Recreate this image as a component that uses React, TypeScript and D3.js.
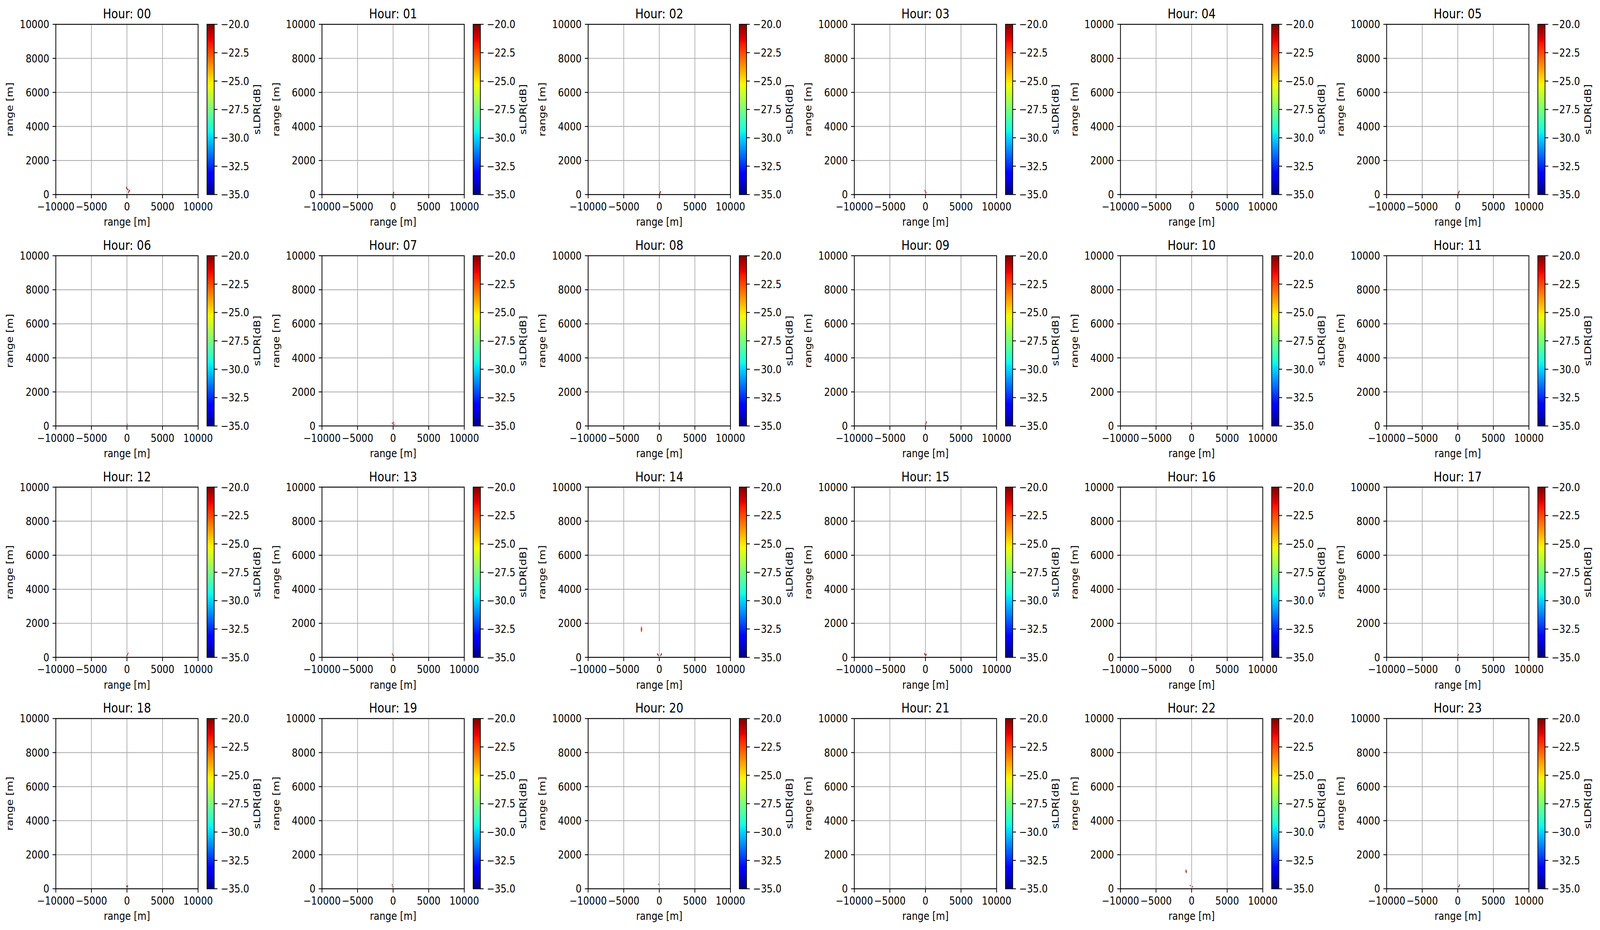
import React from 'react';
import * as d3 from 'd3';

// hour titles, one panel each
const hourLabels = [
  '00', '01', '02', '03', '04', '05',
  '06', '07', '08', '09', '10', '11',
  '12', '13', '14', '15', '16', '17',
  '18', '19', '20', '21', '22', '23',
];

const xTicks = [-10000, -5000, 0, 5000, 10000];
const yTicks = [0, 2000, 4000, 6000, 8000, 10000];
const cbarTicks = [-35, -32.5, -30, -27.5, -25, -22.5, -20];

// sLDR cells per hour: [x range m, y range m, sLDR dB]
const hourCells: [number, number, number][][] = [
  [[-70, 420, -20], [-70, 360, -20.2], [110, 320, -20], [150, 290, -20.3], [210, 120, -20], [260, 170, -20.1], [320, 210, -20], [370, 250, -20.2]],
  [[40, 80, -20], [100, 120, -20.4]],
  [[60, 70, -20], [130, 120, -20.2], [190, 170, -20]],
  [[-80, 230, -21], [20, 170, -21.5], [90, 110, -20.8]],
  [[20, 90, -20.5], [90, 170, -20.8]],
  [[70, 80, -20], [140, 130, -20], [210, 190, -20.3]],
  [[40, 90, -21]],
  [[-120, 170, -20.6], [0, 110, -20.4], [80, 210, -20.8], [140, 90, -20.5]],
  [[-20, 90, -20.5], [40, 170, -20.7]],
  [[20, 90, -20.2], [100, 170, -20], [160, 240, -20.4]],
  [[-80, 160, -21], [0, 100, -20.8]],
  [[20, 110, -21]],
  [[-20, 90, -20.3], [80, 160, -20.5], [160, 240, -20.6]],
  [[-120, 210, -20.6], [-40, 140, -20.8], [60, 100, -20.5]],
  [[-2550, 1580, -22.4], [-2500, 1580, -22], [-2450, 1580, -22.6], [-2550, 1650, -22.2], [-2500, 1650, -21.4], [-2450, 1650, -22.3],
   [-2550, 1720, -22.6], [-2500, 1720, -22.1], [-2450, 1720, -22.7], [-2500, 1520, -22.5], [-2500, 1790, -22.8],
   [-260, 200, -20], [-200, 160, -20], [-130, 110, -20], [200, 110, -20], [260, 160, -20], [310, 210, -20]],
  [[-140, 220, -20], [-60, 160, -20], [40, 110, -20], [120, 170, -20.2]],
  [[20, 120, -20.8]],
  [[20, 100, -20.6], [90, 160, -20.8]],
  [[-60, 150, -20.3], [40, 100, -20.4], [100, 170, -20.5]],
  [[-140, 230, -20.6], [-40, 120, -20.8]],
  [[-80, 260, -21]],
  [[20, 100, -20.8]],
  [[-800, 1080, -20], [-790, 1010, -20.2], [-760, 960, -20], [-740, 1030, -20.1], [-190, 190, -20], [140, 120, -20]],
  [[130, 110, -20], [190, 160, -20], [250, 220, -20]],
];

const W = 4779;
const H = 2382;
const FONT = '"DejaVu Sans", sans-serif';
const TICK_FS = 27.8;

const left0 = 166.7;
const top0 = 62.3;
const colStep = 795;
const rowStep = 592.7;
const axW = 425;
const axH = 436;
const cbGap = 26.6;
const cbW = 21.5;
const tickLen = 9.7;
const lw = 2.2;
const cellW = 90; // metres
const cellH = 80;

// matplotlib "jet"
const jetR = d3.scaleLinear().domain([0, 0.35, 0.66, 0.89, 1]).range([0, 0, 1, 1, 0.5]).clamp(true);
const jetG = d3.scaleLinear().domain([0, 0.125, 0.375, 0.64, 0.91, 1]).range([0, 0, 1, 1, 0, 0]).clamp(true);
const jetB = d3.scaleLinear().domain([0, 0.11, 0.34, 0.65, 1]).range([0.5, 1, 1, 0, 0]).clamp(true);
const jet = (t: number) => d3.rgb(jetR(t) * 255, jetG(t) * 255, jetB(t) * 255).formatHex();
const norm = d3.scaleLinear().domain([-35, -20]).range([0, 1]).clamp(true);

const fmtCb = d3.format('.1f');
const fmtAx = d3.format('d');

const Panel = ({ hour, cells, left, top }: { hour: string; cells: [number, number, number][]; left: number; top: number }) => {
  const x = d3.scaleLinear().domain([-10000, 10000]).range([left, left + axW]);
  const y = d3.scaleLinear().domain([0, 10000]).range([top + axH, top]);
  const bottom = top + axH;
  const cbX = left + axW + cbGap;
  const cbY = d3.scaleLinear().domain([-35, -20]).range([bottom, top]);

  return (
    <g>
      {/* grid */}
      {xTicks.map((t) => (
        <line key={'gx' + t} x1={x(t)} x2={x(t)} y1={top} y2={bottom} stroke="#b0b0b0" strokeWidth={lw} />
      ))}
      {yTicks.map((t) => (
        <line key={'gy' + t} x1={left} x2={left + axW} y1={y(t)} y2={y(t)} stroke="#b0b0b0" strokeWidth={lw} />
      ))}
      {/* data cells */}
      {cells.map(([cx, cy, v], i) => (
        <rect
          key={i}
          x={x(cx - cellW / 2)}
          y={y(cy + cellH / 2)}
          width={x(cx + cellW / 2) - x(cx - cellW / 2)}
          height={y(cy - cellH / 2) - y(cy + cellH / 2)}
          fill={jet(norm(v))}
        />
      ))}
      {/* spines */}
      <rect x={left} y={top} width={axW} height={axH} fill="none" stroke="#000" strokeWidth={lw} />
      {/* x ticks */}
      {xTicks.map((t) => (
        <g key={'xt' + t}>
          <line x1={x(t)} x2={x(t)} y1={bottom} y2={bottom + tickLen} stroke="#000" strokeWidth={lw} />
          <text x={x(t)} y={bottom + 40.6} textAnchor="middle" fontSize={TICK_FS}>{fmtAx(t)}</text>
        </g>
      ))}
      {/* y ticks */}
      {yTicks.map((t) => (
        <g key={'yt' + t}>
          <line x1={left - tickLen} x2={left} y1={y(t)} y2={y(t)} stroke="#000" strokeWidth={lw} />
          <text x={left - 19.4} y={y(t)} dy="0.36em" textAnchor="end" fontSize={TICK_FS}>{fmtAx(t)}</text>
        </g>
      ))}
      <text x={left + axW / 2} y={top - 15} textAnchor="middle" fontSize={33.3}>{`Hour: ${hour}`}</text>
      <text x={left + axW / 2} y={bottom + 80} textAnchor="middle" fontSize={TICK_FS}>range [m]</text>
      <text transform={`translate(${left - 128},${top + axH / 2}) rotate(-90)`} textAnchor="middle" fontSize={TICK_FS}>range [m]</text>
      {/* colorbar */}
      <rect x={cbX} y={top} width={cbW} height={axH} fill="url(#jetGrad)" stroke="#000" strokeWidth={lw} />
      {cbarTicks.map((t) => (
        <g key={'ct' + t}>
          <line x1={cbX + cbW} x2={cbX + cbW + tickLen} y1={cbY(t)} y2={cbY(t)} stroke="#000" strokeWidth={lw} />
          <text x={cbX + cbW + 19.4} y={cbY(t)} dy="0.36em" fontSize={TICK_FS}>{fmtCb(t)}</text>
        </g>
      ))}
      <text transform={`translate(${cbX + cbW + 137},${top + axH / 2}) rotate(-90)`} textAnchor="middle" fontSize={TICK_FS}>sLDR[dB]</text>
    </g>
  );
};

const App = () => {
  const stops = d3.range(0, 1.0001, 0.01);
  return (
    <svg
      viewBox={`0 0 ${W} ${H}`}
      preserveAspectRatio="none"
      style={{ position: 'absolute', left: 0, top: 0, width: '100vw', height: '100vh', background: '#fff', display: 'block' }}
      fontFamily={FONT}
    >
      <defs>
        <linearGradient id="jetGrad" x1="0" y1="1" x2="0" y2="0">
          {stops.map((s) => (
            <stop key={s} offset={s} stopColor={jet(s)} />
          ))}
        </linearGradient>
      </defs>
      <rect width={W} height={H} fill="#fff" />
      {hourLabels.map((h, i) => (
        <Panel
          key={h}
          hour={h}
          cells={hourCells[i]}
          left={left0 + (i % 6) * colStep}
          top={top0 + Math.floor(i / 6) * rowStep}
        />
      ))}
    </svg>
  );
};

export default App;
